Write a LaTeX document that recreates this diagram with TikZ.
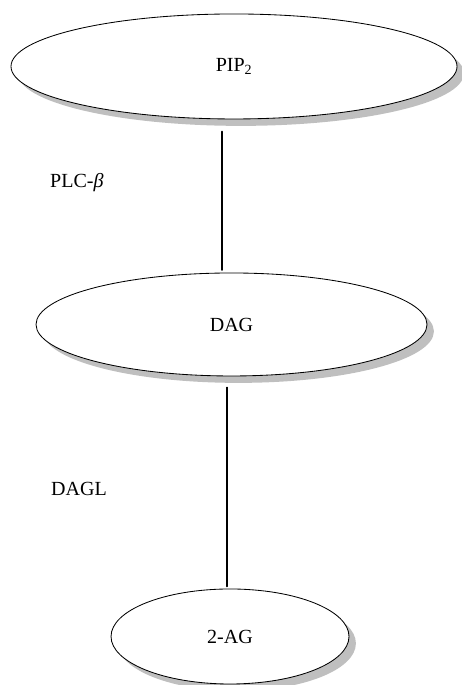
\documentclass[tikz,border=0pt]{standalone}
\usepackage{fontspec}
\setmainfont{Liberation Serif}
\usepackage{tikz}
\usetikzlibrary{shapes.geometric,shadows}
\definecolor{shadowgray}{rgb}{0.75,0.75,0.75}
\usepackage{xcolor}

\begin{document}
\begin{tikzpicture}[line cap=round,line join=round,x=1.0cm,y=1.0cm,
	blob/.style={ellipse,draw,line width=0.8pt,fill=white,inner sep=0pt,
		font=\fontsize{19}{21}\selectfont,
		drop shadow={shadow xshift=0.23cm,shadow yshift=-0.23cm,fill=shadowgray,opacity=1}},
	enz/.style={anchor=west,font=\fontsize{19}{21}\selectfont},
	link/.style={line width=1.5pt}]
	\useasboundingbox (0.,0.) rectangle (15.367,22.833);
	\node[blob,minimum width=14.867cm,minimum height=3.5cm] (pip) at (7.8,20.617) {PIP\textsubscript{2}};
	\node[blob,minimum width=13.033cm,minimum height=3.433cm] (dag) at (7.717,12.017) {DAG};
	\node[blob,minimum width=7.933cm,minimum height=3.167cm] (ag) at (7.667,1.617) {2-AG};
	\draw [link] ([xshift=-0.4cm,yshift=-0.4cm]pip.south) -- ([xshift=-0.317cm,yshift=0.08cm]dag.north);
	\draw [link] ([xshift=-0.15cm,yshift=-0.367cm]dag.south) -- ([xshift=-0.1cm,yshift=0.07cm]ag.north);
	\node[enz] (plc) at (1.55,16.733) {PLC-\textit{β}};
	\node[enz] (dagl) at (1.58,6.533) {DAGL};
%	\draw [dashed] (plc.east) -- (pip.south);
\end{tikzpicture}
\end{document}
